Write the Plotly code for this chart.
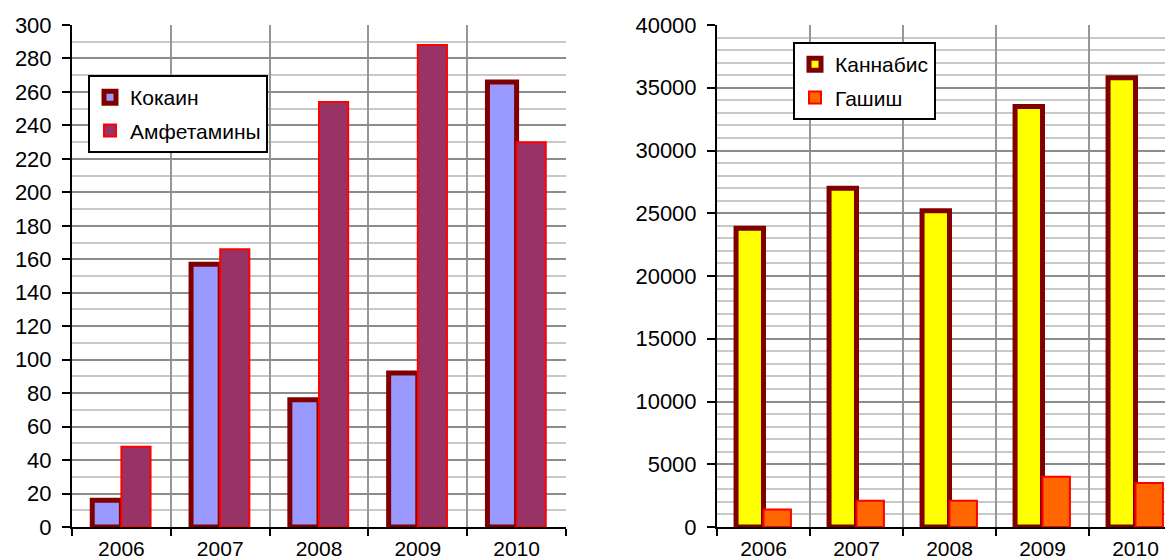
import plotly.graph_objects as go

years = ["2006", "2007", "2008", "2009", "2010"]
cocaine = [16, 157, 76, 92, 266]
amphetamines = [48, 166, 254, 288, 230]
cannabis = [23800, 27000, 25200, 33500, 35800]
hashish = [1400, 2100, 2100, 4000, 3500]

W, H = 1173, 560
OFF = 8  # page body margin offset
FONT = "Liberation Sans, Arial, sans-serif"


def px(x):
    return (x - OFF) / W


def py(y):
    return 1 - (y - OFF) / H


fig = go.Figure()

fig.add_trace(go.Bar(x=years, y=cocaine, name="Кокаин", xaxis="x", yaxis="y",
                     marker=dict(color="#9999FF", line=dict(color="#800000", width=5)),
                     legend="legend", legendgroup="a"))
fig.add_trace(go.Bar(x=years, y=amphetamines, name="Амфетамины", xaxis="x", yaxis="y",
                     marker=dict(color="#993366", line=dict(color="#FF0000", width=2)),
                     legend="legend", legendgroup="b"))
fig.add_trace(go.Bar(x=years, y=cannabis, name="Каннабис", xaxis="x2", yaxis="y2",
                     marker=dict(color="#FFFF00", line=dict(color="#800000", width=5)),
                     legend="legend2", legendgroup="c"))
fig.add_trace(go.Bar(x=years, y=hashish, name="Гашиш", xaxis="x2", yaxis="y2",
                     marker=dict(color="#FF6600", line=dict(color="#FF0000", width=2)),
                     legend="legend2", legendgroup="d"))

ytop = py(25)
ybot = py(527)

common_x = dict(type="category", tickson="boundaries", showgrid=True, gridcolor="#969696",
                gridwidth=1.5, showline=True, linecolor="black", linewidth=2,
                ticks="outside", ticklen=7, tickwidth=2, tickcolor="black",
                tickfont=dict(family=FONT, size=21, color="black"), automargin=False,
                zeroline=False, ticklabelstandoff=2)
common_y = dict(showgrid=True, gridcolor="#8c8c8c", gridwidth=1.5,
                showline=True, linecolor="black", linewidth=2,
                ticks="outside", ticklen=8, tickwidth=2, tickcolor="black",
                tickfont=dict(family=FONT, size=22, color="black"), automargin=False,
                zeroline=False, tickformat="d", ticklabelstandoff=6)

leg_common = dict(xanchor="left", yanchor="top", bordercolor="black", borderwidth=2,
                  bgcolor="white", font=dict(family=FONT, size=21, color="black"),
                  tracegroupgap=3, traceorder="grouped", itemwidth=30)

fig.update_layout(
    width=W, height=H,
    margin=dict(l=0, r=0, t=0, b=0),
    paper_bgcolor="white", plot_bgcolor="white",
    barmode="group", bargap=0.41, bargroupgap=0,
    font=dict(family=FONT, color="black"),
    xaxis=dict(domain=[px(72), px(566)], range=[-0.5, 4.5], anchor="y", **common_x),
    yaxis=dict(domain=[ybot, ytop], range=[0, 300], dtick=20, anchor="x",
               minor=dict(dtick=10, showgrid=True, gridcolor="#c8c8c8", gridwidth=1.5, ticks=""),
               **common_y),
    xaxis2=dict(domain=[px(717), 1], range=[-0.5, 4.5 - 1 / 93], anchor="y2", **common_x),
    yaxis2=dict(domain=[ybot, ytop], range=[0, 40000], dtick=5000, anchor="x2",
                minor=dict(dtick=1000, showgrid=True, gridcolor="#c8c8c8", gridwidth=1.5, ticks=""),
                **common_y),
    legend=dict(x=px(88), y=py(75), **leg_common),
    legend2=dict(x=px(793), y=py(42), **leg_common),
    showlegend=True,
)

fig.write_html("out.html")
